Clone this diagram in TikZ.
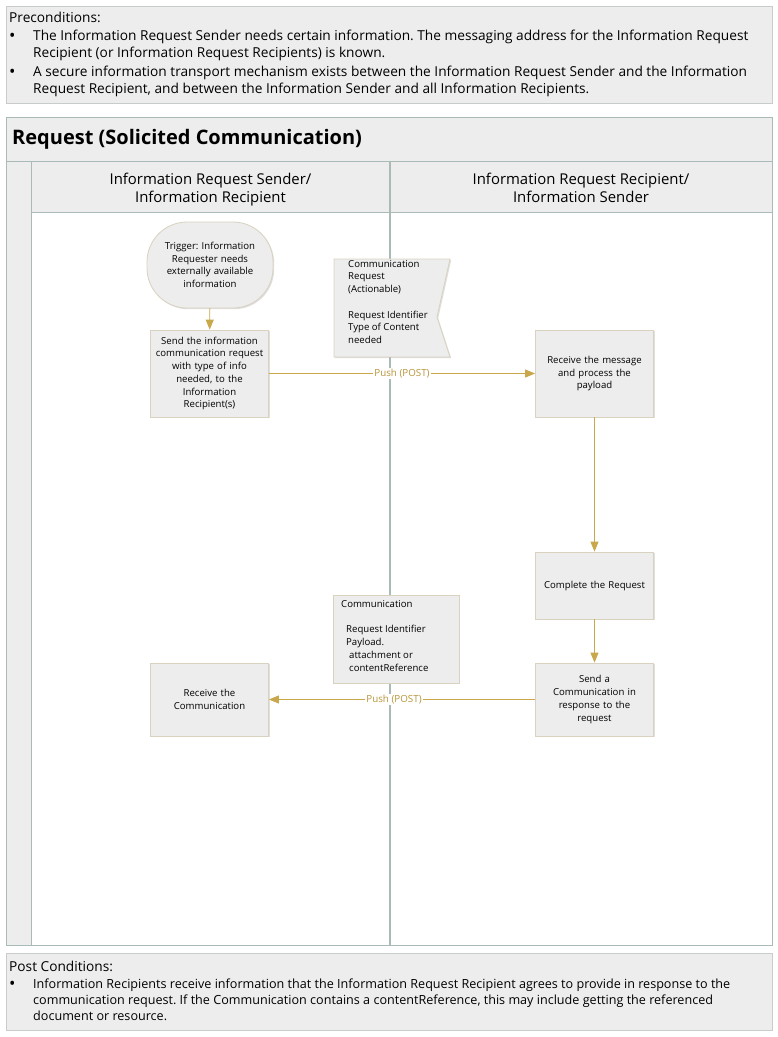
\documentclass[tikz,border=0pt]{standalone}
\usepackage{fontspec}
\setmainfont{Open Sans}
\frenchspacing
\usetikzlibrary{arrows.meta,shadows}
\definecolor{boxfill}{HTML}{EDEDED}
\definecolor{boxline}{HTML}{D8D2BE}
\definecolor{lanel}{HTML}{A9BAB8}
\definecolor{flow}{HTML}{C9A84B}
\definecolor{flowtxt}{HTML}{B8953A}
\definecolor{panel}{HTML}{EDEDED}
\definecolor{panelline}{HTML}{C8CCCC}
\tikzset{
  x=1pt,y=-1pt,
  panelbox/.style={fill=panel,draw=panelline,line width=0.8pt,
    drop shadow={opacity=0.2,shadow xshift=1.2pt,shadow yshift=-1.2pt}},
  lanebox/.style={fill=panel,draw=lanel,line width=1pt},
  proc/.style={rectangle,fill=boxfill,draw=boxline,line width=0.8pt,
    minimum width=117pt,minimum height=#1,inner sep=2pt,align=center,
    text width=114pt,font=\fontsize{9.6}{12.7}\selectfont,
    drop shadow={opacity=0.25,shadow xshift=1.2pt,shadow yshift=-1.2pt}},
  flowline/.style={draw=flow,line width=0.9pt,-{Triangle[length=10pt,width=8pt]}},
  flowlabel/.style={fill=white,text=flowtxt,inner sep=1pt,font=\fontsize{9.8}{11}\selectfont},
  notetext/.style={align=left,inner sep=0pt,anchor=north west,font=\fontsize{9.6}{12.7}\selectfont},
  preline/.style={inner sep=0pt,anchor=base west,font=\fontsize{13.7}{17}\selectfont},
  postline/.style={inner sep=0pt,anchor=base west,font=\fontsize{12.6}{16}\selectfont},
  bulletmark/.style={inner sep=0pt,anchor=base west,font=\fontsize{17}{17}\selectfont},
  laneline/.style={inner sep=0pt,anchor=base,font=\fontsize{14.9}{18.5}\selectfont},
}
\begin{document}
\begin{tikzpicture}
\useasboundingbox (0,0) rectangle (778,1037);
% Preconditions
\path[panelbox] (6,6) rectangle (772,103);
\node[preline] (pretitle) at (9,22) {Preconditions:};
\node[bulletmark] (preb1) at (9,41) {•};
\node[preline] (pret1a) at (33,40) {The Information Request Sender needs certain information. The messaging address for the Information Request};
\node[preline] (pret1b) at (33,57) {Recipient (or Information Request Recipients) is known.};
\node[bulletmark] (preb2) at (9,77) {•};
\node[preline] (pret2a) at (33,76) {A secure information transport mechanism exists between the Information Request Sender and the Information};
\node[preline] (pret2b) at (33,93) {Request Recipient, and between the Information Sender and all Information Recipients.};
% Pool
\path[lanebox] (6,117) rectangle (772,945);
\draw[lanel,line width=1pt] (6,161) -- (772,161);
\node[anchor=west,inner sep=0pt,font=\fontsize{20}{24}\selectfont\bfseries] (pooltitle) at (12,139) {Request (Solicited Communication)};
\path[fill=white,draw=lanel,line width=1pt] (31,212) rectangle (772,945);
\draw[lanel,line width=1pt] (31,161) -- (31,945);
\draw[lanel,line width=1pt] (31,212) -- (772,212);
\draw[lanel,line width=1.6pt] (390,161) -- (390,945);
\node[laneline] (lane1a) at (210.5,184) {Information Request Sender/};
\node[laneline] (lane1b) at (210.5,202) {Information Recipient};
\node[laneline] (lane2a) at (581,184) {Information Request Recipient/};
\node[laneline] (lane2b) at (581,202) {Information Sender};
% Flow nodes
\node[proc=86pt,minimum width=126pt,rounded corners=40pt] (trigger) at (210,265) {Trigger: Information\\Requester needs\\externally available\\information};
\node[proc=87pt] (send) at (209.5,373.5) {Send the information\\communication request\\with type of info\\needed, to the\\Information\\Recipient(s)};
\node[proc=87pt] (recv) at (594.5,373.5) {Receive the message\\and process the\\payload};
\node[proc=67pt] (complete) at (594.5,585.5) {Complete the Request};
\node[proc=73pt] (sendcomm) at (594.5,699.5) {Send a\\Communication in\\response to the\\request};
\node[proc=73pt] (recvcomm) at (209.5,699.5) {Receive the\\Communication};
% Communication Request flag
\path[fill=boxfill,draw=boxline,line width=0.8pt,drop shadow={opacity=0.25,shadow xshift=1.2pt,shadow yshift=-1.2pt}]
  (334,259) -- (450,259) -- (437,317) -- (450,357) -- (334,357) -- cycle;
\node[notetext] (creq) at (348,260) {Communication\\Request\\(Actionable)\\[12.7pt]Request Identifier\\Type of Content\\needed};
% Communication note
\node[rectangle,fill=boxfill,draw=boxline,line width=0.8pt,minimum width=126pt,minimum height=88pt,inner sep=0pt,
  drop shadow={opacity=0.25,shadow xshift=1.2pt,shadow yshift=-1.2pt}] (comm) at (396,639) {};
\node[notetext] (commt1) at (341,600) {Communication};
\node[notetext] (commt2) at (346,625) {Request Identifier\\Payload.};
\node[notetext] (commt3) at (349,651) {attachment or\\contentReference};
% Connectors
\draw[flowline] (trigger) -- (send);
\draw[flowline] (send) -- node[flowlabel,pos=0.5] (push1) {Push (POST)} (recv);
\draw[flowline] (recv) -- (complete);
\draw[flowline] (complete) -- (sendcomm);
\draw[flowline] (sendcomm) -- node[flowlabel,pos=0.53] (push2) {Push (POST)} (recvcomm);
% Post conditions
\path[panelbox] (6,953) rectangle (772,1030);
\node[preline] (posttitle) at (9,971) {Post Conditions:};
\node[bulletmark] (postb1) at (9,989) {•};
\node[postline] (postt1a) at (33,988) {Information Recipients receive information that the Information Request Recipient agrees to provide in response to the};
\node[postline] (postt1b) at (33,1004) {communication request. If the Communication contains a contentReference, this may include getting the referenced};
\node[postline] (postt1c) at (33,1020) {document or resource.};
\end{tikzpicture}
\end{document}
